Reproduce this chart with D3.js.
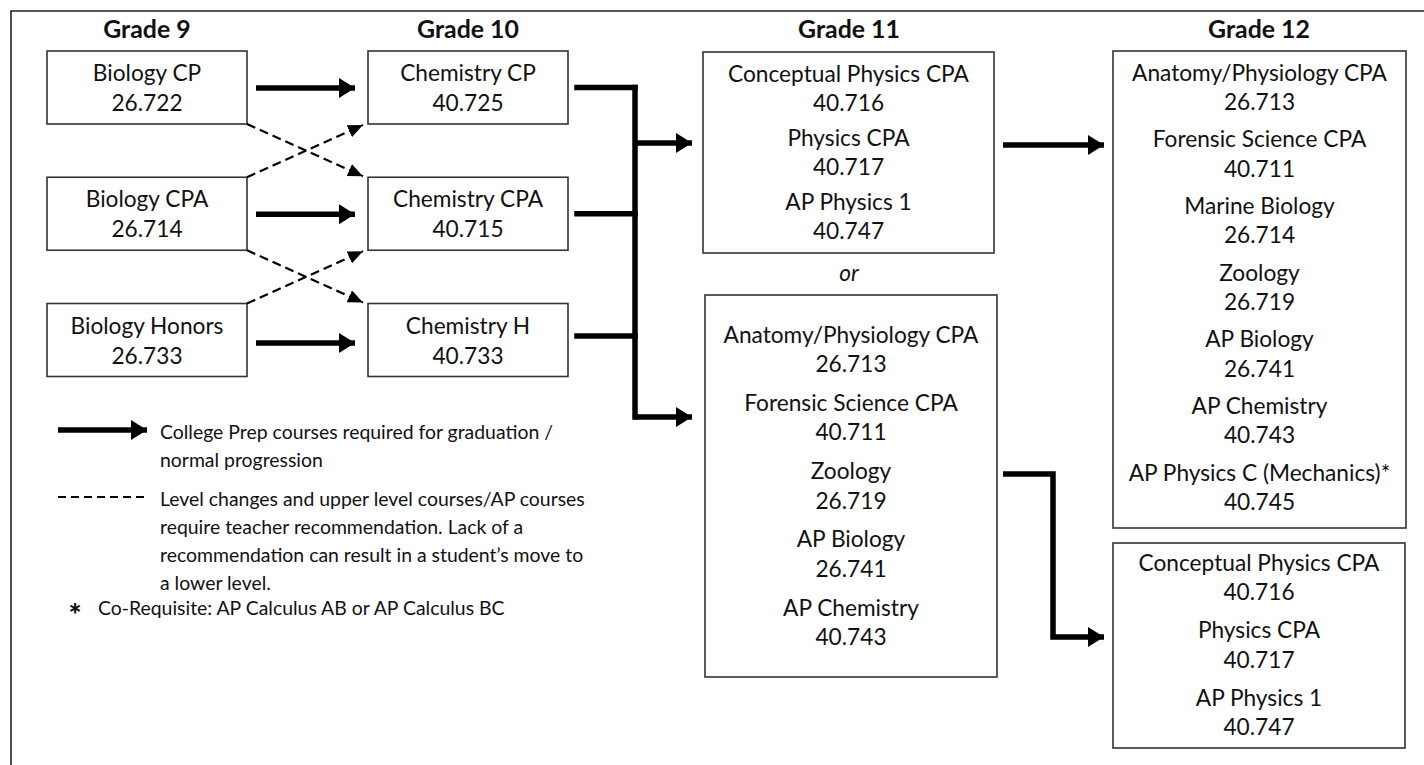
<!DOCTYPE html>
<html>
<head>
<meta charset="utf-8">
<script src="https://cdn.jsdelivr.net/npm/d3@7"></script>
<style>
  html, body { margin: 0; padding: 0; background: #fff; }
  svg { display: block; }
</style>
</head>
<body>
<svg id="chart" width="1424" height="765"></svg>
<script>
// ---------------- DATA ----------------
const gradeLabels = ["Grade 9", "Grade 10", "Grade 11", "Grade 12"];

const grade9Courses = ["Biology CP", "Biology CPA", "Biology Honors"];
const grade9Codes   = ["26.722", "26.714", "26.733"];

const grade10Courses = ["Chemistry CP", "Chemistry CPA", "Chemistry H"];
const grade10Codes   = ["40.725", "40.715", "40.733"];

const grade11PhysicsCourses = ["Conceptual Physics CPA", "Physics CPA", "AP Physics 1"];
const grade11PhysicsCodes   = ["40.716", "40.717", "40.747"];

const grade11ElectiveCourses = ["Anatomy/Physiology CPA", "Forensic Science CPA", "Zoology", "AP Biology", "AP Chemistry"];
const grade11ElectiveCodes   = ["26.713", "40.711", "26.719", "26.741", "40.743"];

const grade12ElectiveCourses = ["Anatomy/Physiology CPA", "Forensic Science CPA", "Marine Biology", "Zoology", "AP Biology", "AP Chemistry", "AP Physics C (Mechanics)*"];
const grade12ElectiveCodes   = ["26.713", "40.711", "26.714", "26.719", "26.741", "40.743", "40.745"];

const grade12PhysicsCourses = ["Conceptual Physics CPA", "Physics CPA", "AP Physics 1"];
const grade12PhysicsCodes   = ["40.716", "40.717", "40.747"];

const orLabel = "or";

const legendSolidText  = ["College Prep courses required for graduation /", "normal progression"];
const legendDashedText = ["Level changes and upper level courses/AP courses", "require teacher recommendation. Lack of a", "recommendation can result in a student\u2019s move to", "a lower level."];
const legendStarSymbol = "*";
const legendStarText   = "Co-Requisite: AP Calculus AB or AP Calculus BC";

// ---------------- SETUP ----------------
const svg = d3.select("#chart");
const FONT = "Lato, 'Open Sans', sans-serif";
const INK = "#111";
const BOX = "#333";

function fitSize(text, weight, style, target) {
  const t = svg.append("text").attr("font-family", FONT).attr("font-size", 100)
    .attr("font-weight", weight).attr("font-style", style).text(text);
  const w = t.node().getComputedTextLength();
  t.remove();
  return 100 * target / w;
}
const bodySize   = fitSize("Conceptual Physics CPA", "normal", "normal", 241);
const headSize   = fitSize("Grade 12", "bold", "normal", 102);
const legendSize = fitSize("Level changes and upper level courses/AP courses", "normal", "normal", 425);

// frame (clipped on right/bottom)
svg.append("path").attr("d", "M11,765 L11,11 L1424,11")
  .attr("fill", "none").attr("stroke", "#222").attr("stroke-width", 1.6);

// arrowhead markers
const defs = svg.append("defs");
defs.append("marker").attr("id", "headBig").attr("viewBox", "0 0 16 20")
  .attr("refX", 16).attr("refY", 10).attr("markerWidth", 16).attr("markerHeight", 20)
  .attr("markerUnits", "userSpaceOnUse").attr("orient", "auto")
  .append("path").attr("d", "M0,0 L16,10 L0,20 Z").attr("fill", "#000");
defs.append("marker").attr("id", "headSmall").attr("viewBox", "0 0 15 13")
  .attr("refX", 15).attr("refY", 6.5).attr("markerWidth", 15).attr("markerHeight", 13)
  .attr("markerUnits", "userSpaceOnUse").attr("orient", "auto")
  .append("path").attr("d", "M0,0 L15,6.5 L0,13 Z").attr("fill", "#000");

// ---------------- SCALES ----------------
const colX = d3.scaleOrdinal().domain(gradeLabels).range([147, 468, 849, 1259]);
const rowY = d3.scalePoint().domain([0, 1, 2]).range([87.5, 340]);
const smallBoxW = 200, smallBoxH = 73;
const col9Left = 47, col10Left = 368;

// headers
svg.selectAll("text.grade").data(gradeLabels).join("text")
  .attr("class", "grade")
  .attr("x", d => colX(d)).attr("y", 28)
  .attr("text-anchor", "middle").attr("dominant-baseline", "central")
  .attr("font-family", FONT).attr("font-weight", "bold").attr("font-size", headSize)
  .attr("fill", INK).text(d => d);

// small boxes
function smallColumn(courses, codes, left) {
  const g = svg.append("g");
  const rows = courses.map((c, i) => ({ name: c, code: codes[i], i }));
  g.selectAll("rect").data(rows).join("rect")
    .attr("x", left).attr("y", d => rowY(d.i) - smallBoxH / 2)
    .attr("width", smallBoxW).attr("height", smallBoxH)
    .attr("fill", "#fff").attr("stroke", BOX).attr("stroke-width", 1.6);
  g.selectAll("text.n").data(rows).join("text").attr("class", "n")
    .attr("x", left + smallBoxW / 2).attr("y", d => rowY(d.i) - 15)
    .attr("text-anchor", "middle").attr("dominant-baseline", "central")
    .attr("font-family", FONT).attr("font-size", bodySize).attr("fill", INK).text(d => d.name);
  g.selectAll("text.c").data(rows).join("text").attr("class", "c")
    .attr("x", left + smallBoxW / 2).attr("y", d => rowY(d.i) + 15)
    .attr("text-anchor", "middle").attr("dominant-baseline", "central")
    .attr("font-family", FONT).attr("font-size", bodySize).attr("fill", INK).text(d => d.code);
}
smallColumn(grade9Courses, grade9Codes, col9Left);
smallColumn(grade10Courses, grade10Codes, col10Left);

// list boxes
function listBox(courses, codes, box) {
  const g = svg.append("g");
  g.append("rect").attr("x", box.x).attr("y", box.y).attr("width", box.w).attr("height", box.h)
    .attr("fill", "#fff").attr("stroke", BOX).attr("stroke-width", 1.6);
  const y = d3.scaleLinear().domain([0, courses.length - 1]).range([box.first, box.last]);
  const rows = courses.map((c, i) => ({ name: c, code: codes[i], i }));
  const cx = box.x + box.w / 2;
  g.selectAll("text.n").data(rows).join("text").attr("class", "n")
    .attr("x", cx).attr("y", d => y(d.i))
    .attr("text-anchor", "middle").attr("dominant-baseline", "central")
    .attr("font-family", FONT).attr("font-size", bodySize).attr("fill", INK).text(d => d.name);
  g.selectAll("text.c").data(rows).join("text").attr("class", "c")
    .attr("x", cx).attr("y", d => y(d.i) + 29.5)
    .attr("text-anchor", "middle").attr("dominant-baseline", "central")
    .attr("font-family", FONT).attr("font-size", bodySize).attr("fill", INK).text(d => d.code);
}
listBox(grade11PhysicsCourses, grade11PhysicsCodes, { x: 703, y: 52, w: 291, h: 201, first: 73, last: 201 });
listBox(grade11ElectiveCourses, grade11ElectiveCodes, { x: 705, y: 295, w: 292, h: 382, first: 334, last: 607 });
listBox(grade12ElectiveCourses, grade12ElectiveCodes, { x: 1113, y: 51, w: 293, h: 477, first: 72, last: 472 });
listBox(grade12PhysicsCourses, grade12PhysicsCodes, { x: 1113, y: 543, w: 292, h: 205, first: 562, last: 697 });

svg.append("text").attr("x", 849).attr("y", 272)
  .attr("text-anchor", "middle").attr("dominant-baseline", "central")
  .attr("font-family", FONT).attr("font-style", "italic").attr("font-size", bodySize)
  .attr("fill", INK).text(orLabel);

// ---------------- CONNECTORS ----------------
const line = d3.line();
const thick = 5.5;
function solidArrow(pts) {
  svg.append("path").attr("d", line(pts)).attr("fill", "none")
    .attr("stroke", "#000").attr("stroke-width", thick)
    .attr("stroke-linejoin", "miter").attr("marker-end", "url(#headBig)");
}
function solidLine(pts) {
  svg.append("path").attr("d", line(pts)).attr("fill", "none")
    .attr("stroke", "#000").attr("stroke-width", thick).attr("stroke-linecap", "square");
}
function dashedArrow(pts) {
  svg.append("path").attr("d", line(pts)).attr("fill", "none")
    .attr("stroke", "#000").attr("stroke-width", 2.2).attr("stroke-dasharray", "9,5")
    .attr("marker-end", "url(#headSmall)");
}

// grade 9 -> grade 10 straight arrows
[0, 1, 2].forEach(i => {
  const yy = rowY(i) + (i === 2 ? 3 : 0.5);
  solidArrow([[256, yy], [355, yy]]);
});
// level-change dashed arrows
const r9R = col9Left + smallBoxW, r10L = col10Left - 5;
[[0, 1], [1, 0], [1, 2], [2, 1]].forEach(([a, b]) => {
  const ya = a < b ? rowY(a) + smallBoxH / 2 : rowY(a) - smallBoxH / 2;
  const yb = a < b ? rowY(b) - smallBoxH / 2 : rowY(b) + smallBoxH / 2;
  dashedArrow([[r9R, ya], [r10L, yb + (a < b ? -1 : 1)]]);
});

// grade 10 bracket
const brX = 635, brL = 577;
[0, 1, 2].forEach(i => {
  const yy = rowY(i) - (i === 2 ? 4 : 0);
  solidLine([[brL, yy], [brX, yy]]);
});
solidLine([[brX, rowY(0)], [brX, 417]]);
solidArrow([[brX, 143], [692, 143]]);
solidArrow([[brX, 417], [692, 417]]);

// grade 11 -> grade 12
solidArrow([[1003, 145], [1104, 145]]);
solidArrow([[1003, 474], [1053, 474], [1053, 637], [1104, 637]]);

// ---------------- LEGEND ----------------
solidArrow([[58, 430], [147, 430]]);
svg.selectAll("text.ls").data(legendSolidText).join("text").attr("class", "ls")
  .attr("x", 160).attr("y", (d, i) => 431 + i * 28)
  .attr("dominant-baseline", "central")
  .attr("font-family", FONT).attr("font-size", legendSize).attr("fill", INK).text(d => d);

svg.append("path").attr("d", line([[58, 497], [146, 497]]))
  .attr("stroke", "#000").attr("stroke-width", 1.8).attr("stroke-dasharray", "8,5");
svg.selectAll("text.ld").data(legendDashedText).join("text").attr("class", "ld")
  .attr("x", 160).attr("y", (d, i) => 498 + i * 28)
  .attr("dominant-baseline", "central")
  .attr("font-family", FONT).attr("font-size", legendSize).attr("fill", INK).text(d => d);

svg.append("text").attr("x", 75).attr("y", 614)
  .attr("text-anchor", "middle").attr("dominant-baseline", "central")
  .attr("font-family", FONT).attr("font-weight", "900").attr("font-size", legendSize * 1.6)
  .attr("fill", INK).text(legendStarSymbol);
svg.append("text").attr("x", 98).attr("y", 607)
  .attr("dominant-baseline", "central")
  .attr("font-family", FONT).attr("font-size", legendSize).attr("fill", INK).text(legendStarText);
</script>
</body>
</html>
